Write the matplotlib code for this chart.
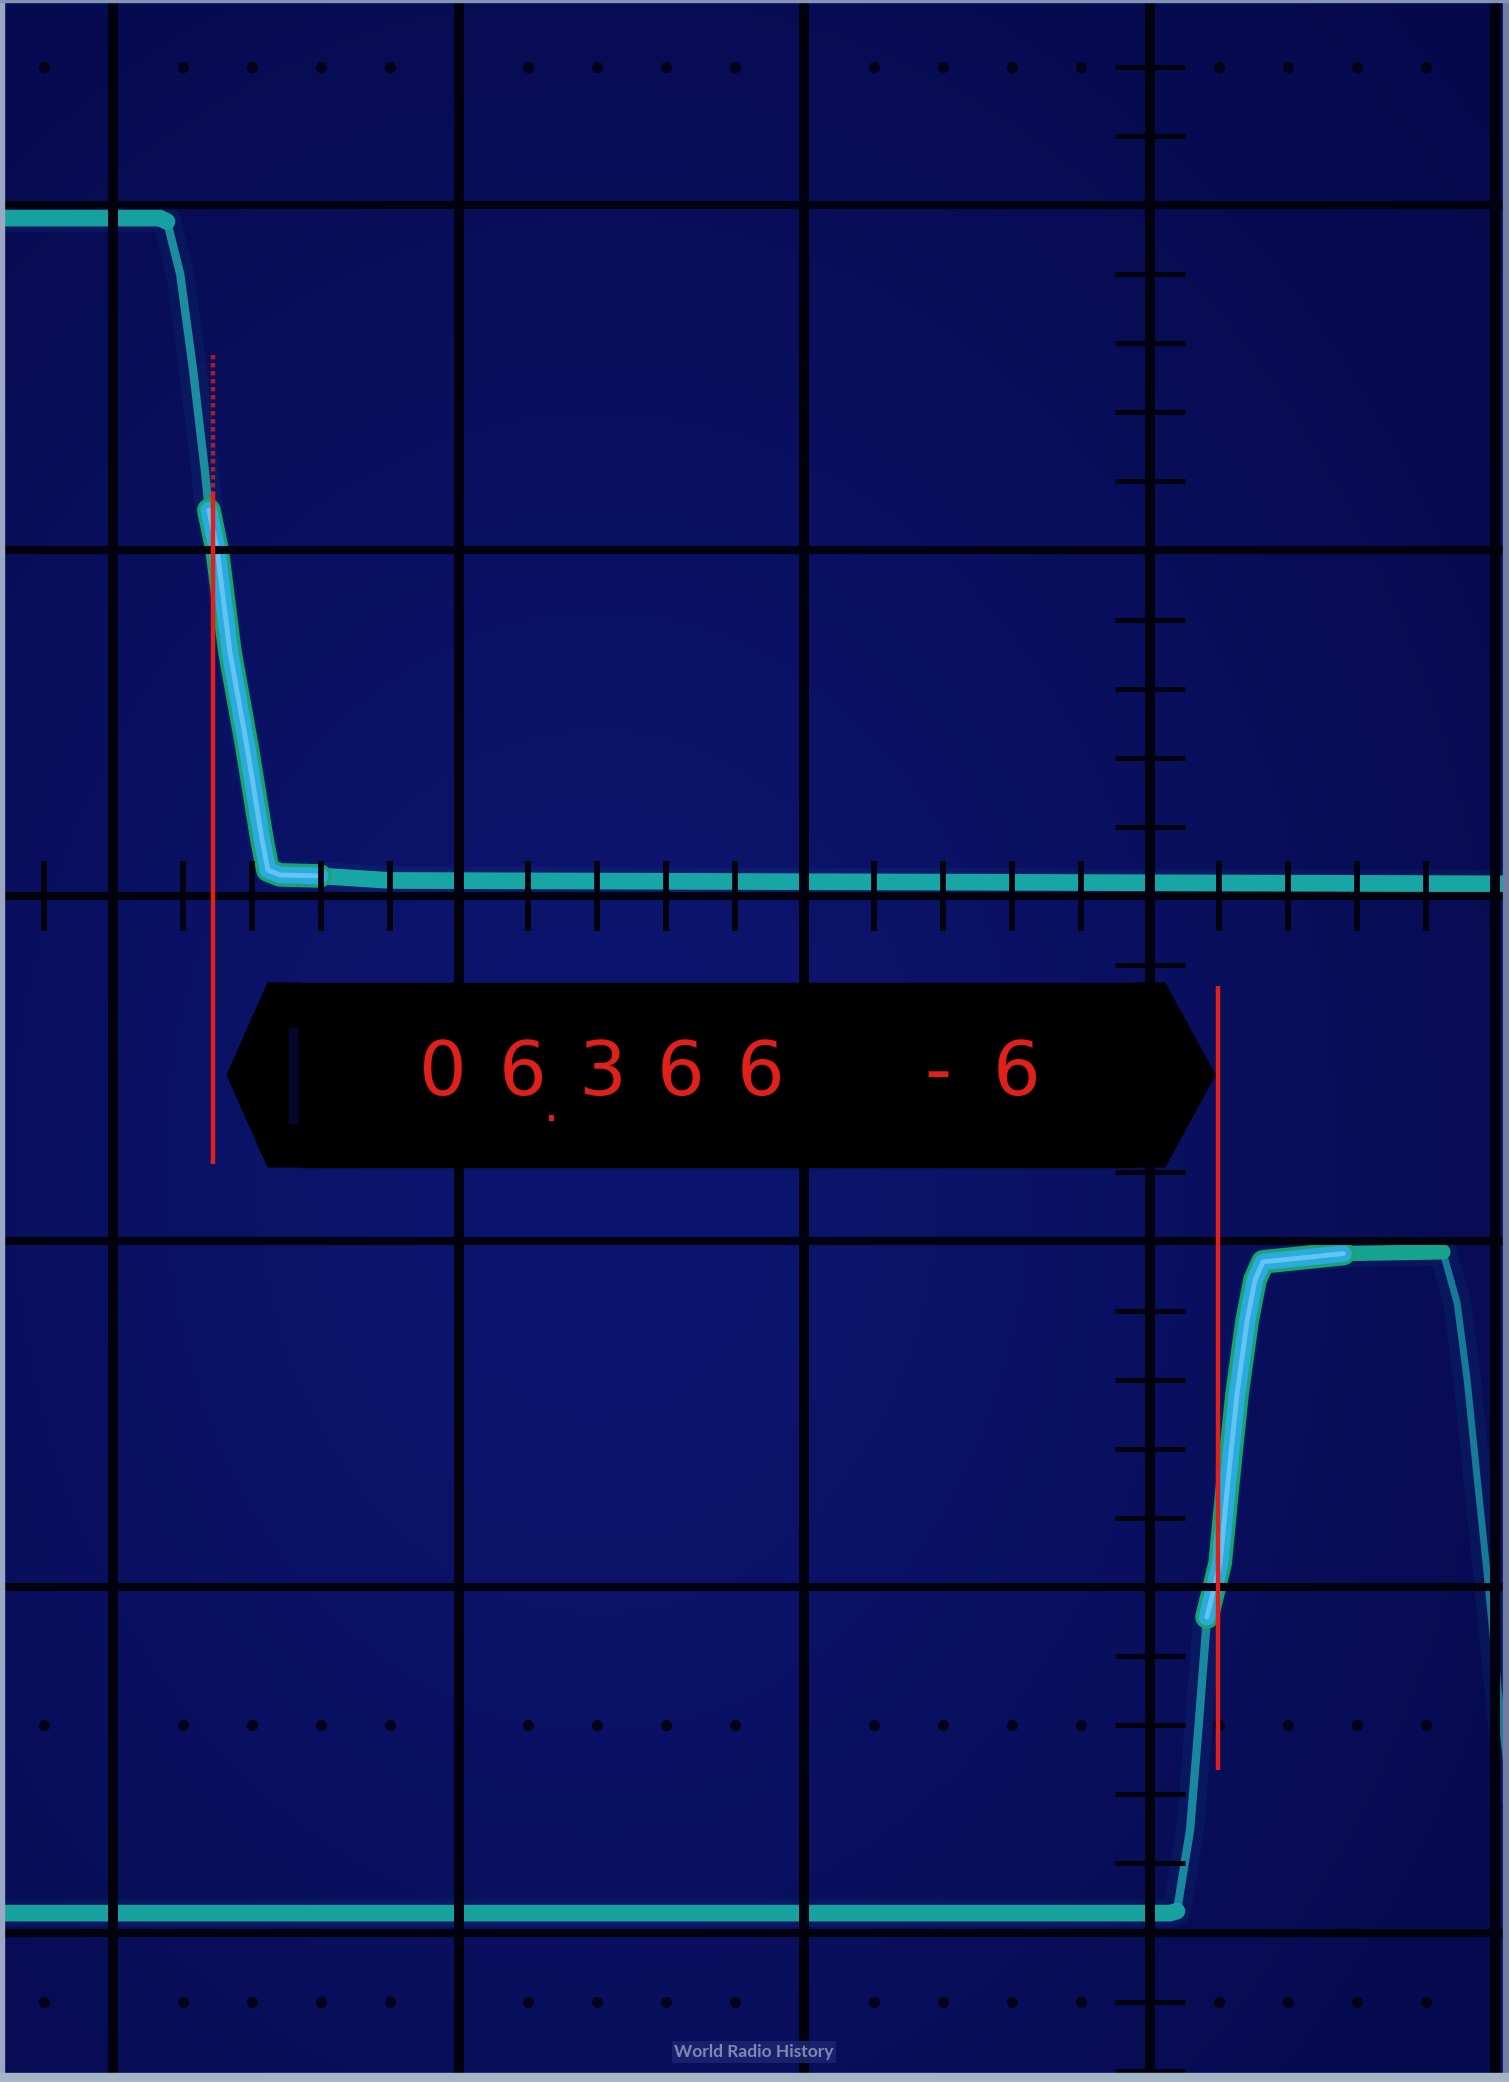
import numpy as np
import matplotlib.pyplot as plt
from matplotlib.patches import Polygon, Rectangle

# all positions are in graticule divisions, origin where the centre lines cross
# trace A: the falling edge, top left
trace_a_x = [-3.40, -2.865, -2.845, -2.807, -2.770, -2.735, -2.724, -2.700,
             -2.663, -2.614, -2.570, -2.553, -2.518, -2.402, -2.20, 1.10]
trace_a_y = [1.962, 1.962, 1.952, 1.800, 1.525, 1.227, 1.117, 1.001,
             0.706, 0.434, 0.162, 0.075, 0.061, 0.058, 0.045, 0.035]

# trace B: the rising edge, bottom right
trace_b_x = [-3.40, 0.058, 0.078, 0.116, 0.139, 0.165, 0.203, 0.223, 0.252,
             0.281, 0.304, 0.327, 0.434, 0.560, 0.848, 0.889, 0.918, 0.946,
             0.975, 1.007, 1.045]
trace_b_y = [-2.944, -2.944, -2.938, -2.703, -2.423, -2.087, -1.931, -1.722,
             -1.441, -1.230, -1.111, -1.059, -1.048, -1.035, -1.030, -1.178,
             -1.401, -1.676, -1.954, -2.287, -2.620]

# red time cursors
cursor_x = [-2.712, 0.197]
cursor_top = [1.566, -0.260]
cursor_bottom = [-0.776, -2.530]

# counter readout
mantissa = "06366"
exponent = "-6"

# graticule
major_x = [-3, -2, -1, 0, 1]
major_y = [-3, -2, -1, 0, 1, 2]
dot_rows = [2.4, -2.4, -3.2]

x_left, x_right = -3.3285, 1.0391
y_bottom, y_top = -3.4327, 2.5933

fig = plt.figure(figsize=(15.09, 20.82), dpi=100)
ax = fig.add_axes([0, 0, 1, 1])

# phosphor screen background, a little brighter left of centre
gx = np.linspace(x_left, x_right, 120)
gy = np.linspace(y_bottom, y_top, 160)
X, Y = np.meshgrid(gx, gy)
glow = np.exp(-((X + 1.6) ** 2 / 6.0 + (Y + 0.8) ** 2 / 10.0))
base = np.array([5, 8, 72]) / 255
lift = np.array([7, 13, 38]) / 255
bg = base + glow[..., None] * lift
ax.imshow(bg, extent=(x_left, x_right, y_bottom, y_top),
          origin='lower', aspect='auto', interpolation='bilinear', zorder=0)

ta_x, ta_y = np.array(trace_a_x), np.array(trace_a_y)
tb_x, tb_y = np.array(trace_b_x), np.array(trace_b_y)

kw = dict(solid_capstyle='round', solid_joinstyle='round')

# soft halo
for tx, ty in [(ta_x, ta_y), (tb_x, tb_y)]:
    ax.plot(tx, ty, color='#1a8fb0', lw=20, alpha=0.08, zorder=1, **kw)

# dim slopes
ax.plot(ta_x[1:7], ta_y[1:7], color='#1b8d9e', lw=6, zorder=2, **kw)
ax.plot(tb_x[1:7], tb_y[1:7], color='#1a87a0', lw=6, zorder=2, **kw)
ax.plot(tb_x[14:], tb_y[14:], color='#167a98', lw=5, zorder=2, **kw)

# flat levels
ax.plot(ta_x[:3], ta_y[:3], color='#17a0a2', lw=12, zorder=2, **kw)
ax.plot(ta_x[12:], ta_y[12:], color='#18a6a4', lw=12, zorder=2, **kw)
ax.plot(tb_x[:3], tb_y[:3], color='#17a2a0', lw=12, zorder=2, **kw)
ax.plot(tb_x[11:15], tb_y[11:15], color='#16a38e', lw=11, zorder=2, **kw)

# bright writing sections
for tx, ty in [(ta_x[6:14], ta_y[6:14]), (tb_x[5:14], tb_y[5:14])]:
    ax.plot(tx, ty, color='#18a46c', lw=17, zorder=2.1, **kw)
    ax.plot(tx, ty, color='#2aaade', lw=12, zorder=2.2, **kw)
    ax.plot(tx, ty, color='#8fdcff', lw=3.5, alpha=0.55, zorder=2.3, **kw)

# graticule lines
grid_col = '#01020e'
for gxv in major_x:
    ax.axvline(gxv, color=grid_col, lw=7.2, zorder=3)
for gyv in major_y:
    ax.axhline(gyv, color=grid_col, lw=5.8, zorder=3)

# minor ticks on the centre lines
ky = np.arange(-17, 13) * 0.2
ax.hlines(ky, -0.1, 0.1, color=grid_col, lw=3.6, zorder=3)
kx = np.arange(-16, 6) * 0.2
ax.vlines(kx, -0.1, 0.1, color=grid_col, lw=4.2, zorder=3)

# dotted rows
dx = np.array([k * 0.2 for k in range(-16, 6) if k % 5 != 0])
for r in dot_rows:
    ax.plot(dx, np.full_like(dx, r), 'o', color='#02031a', ms=7, zorder=3)

# cursors (the top of the left one is faint and broken)
red = '#e0201b'
split = 1.17
for cx, c0, c1 in zip(cursor_x, cursor_top, cursor_bottom):
    ax.plot([cx, cx], [min(c0, split), c1], color=red, lw=3.2, zorder=4,
            solid_capstyle='butt')
    if c0 > split:
        ax.plot([cx, cx], [c0, split], color=red, lw=3.2, alpha=0.75, zorder=4,
                linestyle=(0, (1.0, 0.8)))

# readout window with arrows
ax.add_patch(Rectangle((-2.463, -0.784), 2.417, 0.532, color='black', zorder=5))
ax.add_patch(Polygon([(-2.671, -0.518), (-2.553, -0.252), (-2.460, -0.252),
                      (-2.460, -0.784), (-2.553, -0.784)], color='black', zorder=5))
ax.add_patch(Rectangle((-2.492, -0.658), 0.022, 0.276, color='#070b48',
                       alpha=0.6, zorder=5.1))
ax.add_patch(Polygon([(-0.046, -0.252), (0.043, -0.252), (0.188, -0.518),
                      (0.043, -0.784), (-0.046, -0.784)], color='black', zorder=5))

digit_kw = dict(color=red, fontsize=54, ha='center', va='baseline', zorder=6,
                family='DejaVu Sans')
for i, d in enumerate(mantissa):
    ax.text(-2.046 + i * 0.2295, -0.576, d, **digit_kw)
ax.text(-1.731, -0.652, '.', color=red, fontsize=34, ha='center', va='baseline', zorder=6)
ax.text(-0.614, -0.576, exponent[0], **digit_kw)
ax.text(-0.385, -0.576, exponent[1], **digit_kw)

ax.set_xlim(x_left, x_right)
ax.set_ylim(y_bottom, y_top)
ax.axis('off')

# edges of the scanned page
fig.patches.append(Rectangle((0, 0), 4 / 1509, 1, transform=fig.transFigure,
                             color='#9aa8c6', zorder=10))
fig.patches.append(Rectangle((1 - 6 / 1509, 0), 6 / 1509, 1, transform=fig.transFigure,
                             color='#6e7ca2', zorder=10))
fig.patches.append(Rectangle((0, 0), 1, 9 / 2082, transform=fig.transFigure,
                             color='#a4b6c6', zorder=10))
fig.patches.append(Rectangle((0, 1 - 2 / 2082), 1, 2 / 2082, transform=fig.transFigure,
                             color='#8494b6', zorder=10))

fig.text(754 / 1509, 1 - 2052 / 2082, 'World Radio History', color='#7f88b2',
         fontsize=12.5, fontweight='bold', family='Lato', ha='center', va='center',
         bbox=dict(boxstyle='square,pad=0.15', fc='#1c2670', ec='none', alpha=0.85),
         zorder=11)

fig.savefig('out.png', dpi=100)
